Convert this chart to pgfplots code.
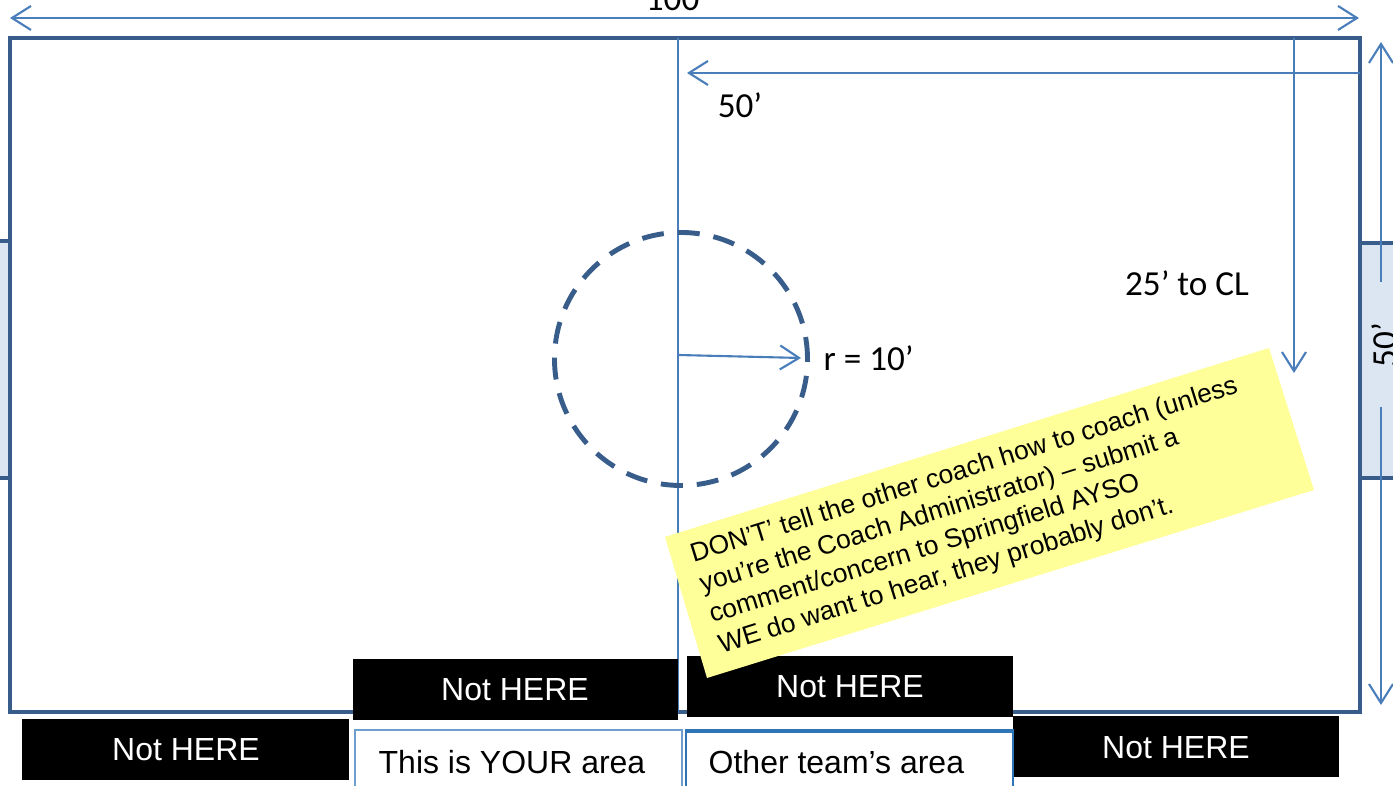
\documentclass[border=0pt]{standalone}
\usepackage{pgfplots}
\pgfplotsset{compat=1.18}
\usetikzlibrary{arrows.meta}
\usepackage{fontspec}
\setmainfont{Liberation Sans}
\newfontfamily\calfont{Carlito}
\definecolor{fieldblue}{HTML}{385D8A}
\definecolor{lineblue}{HTML}{4A7EBB}
\definecolor{goalfill}{HTML}{DCE6F2}
\definecolor{noteyellow}{HTML}{FFFF99}
\definecolor{boxblue}{HTML}{2E75B6}
\begin{document}
\begin{tikzpicture}
\useasboundingbox (0,0) rectangle (13.93cm,7.86cm);
\clip (0,0) rectangle (13.93cm,7.86cm);
\begin{axis}[
  width=13.93cm, height=7.86cm, scale only axis,
  at={(0,0)}, anchor=south west,
  xmin=0, xmax=1393, ymin=0, ymax=786, y dir=reverse,
  axis lines=none, clip=false,
  >={Straight Barb[length=1.9mm,width=2.4mm]},
]
% goal boxes
\addplot[fill=goalfill, draw=fieldblue, line width=1.2pt] coordinates {(-5,241) (10,241) (10,478) (-5,478)} -- cycle;
\addplot[fill=goalfill, draw=fieldblue, line width=1.2pt] coordinates {(1360,243) (1400,243) (1400,478) (1360,478)} -- cycle;
% field
\addplot[draw=fieldblue, line width=1.4pt] coordinates {(10,38) (1360,38) (1360,712) (10,712)} -- cycle;
% centre line
\addplot[draw=lineblue, line width=0.6pt] coordinates {(678,38) (678,713)};
% top 100' arrow
\addplot[draw=lineblue, line width=0.6pt, <->] coordinates {(10,18) (1359,18)};
\node[font=\calfont\fontsize{10}{12}\selectfont, anchor=base] at (677,11) {100’};
% 50' arrow
\addplot[draw=lineblue, line width=0.6pt, ->] coordinates {(1360,73) (687,73)};
\node[font=\calfont\fontsize{10}{12}\selectfont] at (740,105) {50’};
% 25' to CL arrow
\addplot[draw=lineblue, line width=0.6pt, ->] coordinates {(1294,38) (1294,373)};
\node[font=\calfont\fontsize{10}{12}\selectfont] at (1187,283) {25’ to CL};
% right 50' arrow
\addplot[draw=lineblue, line width=0.6pt, ->] coordinates {(1381,282) (1381,42)};
\addplot[draw=lineblue, line width=0.6pt, ->] coordinates {(1381,407) (1381,705)};
\node[font=\calfont\fontsize{10}{12}\selectfont, rotate=90] at (1384,345) {50’};
% centre circle
\draw[fieldblue, line width=1.4pt, dash pattern=on 0.22cm off 0.14cm] (axis cs:681,359) circle [radius=1.265cm];
% radius arrow
\addplot[draw=lineblue, line width=0.6pt, ->] coordinates {(678,355) (801,358)};
\node[font=\calfont\fontsize{10}{12}\selectfont, anchor=west, inner sep=0pt] at (823,358) {r = 10’};
% black boxes
\addplot[fill=black, draw=none] coordinates {(22,719) (349,719) (349,780) (22,780)} -- cycle;
\addplot[fill=black, draw=none] coordinates {(353,659) (678,659) (678,720) (353,720)} -- cycle;
\addplot[fill=black, draw=none] coordinates {(687,656) (1013,656) (1013,717) (687,717)} -- cycle;
\addplot[fill=black, draw=none] coordinates {(1013,716) (1339,716) (1339,777) (1013,777)} -- cycle;
\node[white, font=\fontsize{9.1}{11}\selectfont] at (186,750) {Not HERE};
\node[white, font=\fontsize{9.1}{11}\selectfont] at (515,690) {Not HERE};
\node[white, font=\fontsize{9.1}{11}\selectfont] at (850,687) {Not HERE};
\node[white, font=\fontsize{9.1}{11}\selectfont] at (1176,748) {Not HERE};
% yellow note
\addplot[fill=noteyellow, draw=none] coordinates {(665,537) (1269,348) (1314,490) (707,678)} -- cycle;
\node[rotate=17.3, anchor=west, inner sep=0pt, align=left, font=\fontsize{7.5}{9}\selectfont] at (705,601.6)
  {DON’T’ tell the other coach how to coach (unless\\
   you’re the Coach Administrator) – submit a\\
   comment/concern to Springfield AYSO\\
   WE do want to hear, they probably don’t.};
% white area boxes
\addplot[fill=white, draw=boxblue!70, line width=0.6pt] coordinates {(355,800) (355,730) (682,730) (682,800)};
\addplot[fill=white, draw=boxblue, line width=0.6pt] coordinates {(686,800) (686,730) (1013,730) (1013,800)};
\addplot[draw=boxblue, line width=1.1pt] coordinates {(686,731) (1013,731)};
\node[anchor=west, inner sep=0pt, font=\fontsize{9.1}{11}\selectfont] at (378,762) {This is YOUR area};
\node[anchor=west, inner sep=0pt, font=\fontsize{9.1}{11}\selectfont] at (708,762) {Other team’s area};
\end{axis}
\end{tikzpicture}
\end{document}
